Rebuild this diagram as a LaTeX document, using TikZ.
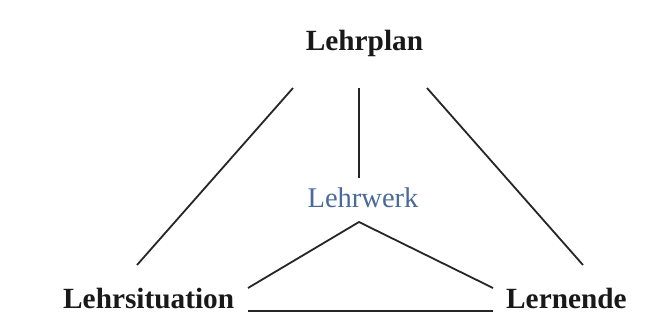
\documentclass[tikz,border=0pt]{standalone}
\usepackage{fontspec}
\setmainfont{Liberation Serif}
\definecolor{werkblue}{RGB}{74,106,156}
\begin{document}
\begin{tikzpicture}[x=1pt,y=-1pt,
  corner/.style={font=\fontsize{29.3}{32}\selectfont\bfseries, text=black!90, inner sep=0pt},
  middle/.style={font=\fontsize{28.5}{32}\selectfont, text=werkblue, inner sep=0pt},
  link/.style={line width=1.8pt, draw=black!85}]
\useasboundingbox[fill=white] (0,0) rectangle (669,322);
\node[corner, anchor=base] (plan) at (364.5,50) {Lehrplan};
\node[corner, anchor=base west] (sit) at (63,308) {Lehrsituation};
\node[corner, anchor=base west] (lern) at (506,308) {Lernende};
\node[middle, anchor=base] (werk) at (363,207) {Lehrwerk};
\coordinate (pL) at (293,88);
\coordinate (pM) at (359,88);
\coordinate (pR) at (427,88);
\coordinate (sT) at (137,265);
\coordinate (lT) at (583,265);
\coordinate (wT) at (359,178);
\coordinate (wA) at (359,222);
\coordinate (sW) at (248,288);
\coordinate (lW) at (493,288);
\coordinate (sB) at (248,311);
\coordinate (lB) at (493,311);
\draw[link] (pL) -- (sT);
\draw[link] (pM) -- (wT);
\draw[link] (pR) -- (lT);
\draw[link] (sW) -- (wA) -- (lW);
\draw[link] (sB) -- (lB);
\end{tikzpicture}
\end{document}
